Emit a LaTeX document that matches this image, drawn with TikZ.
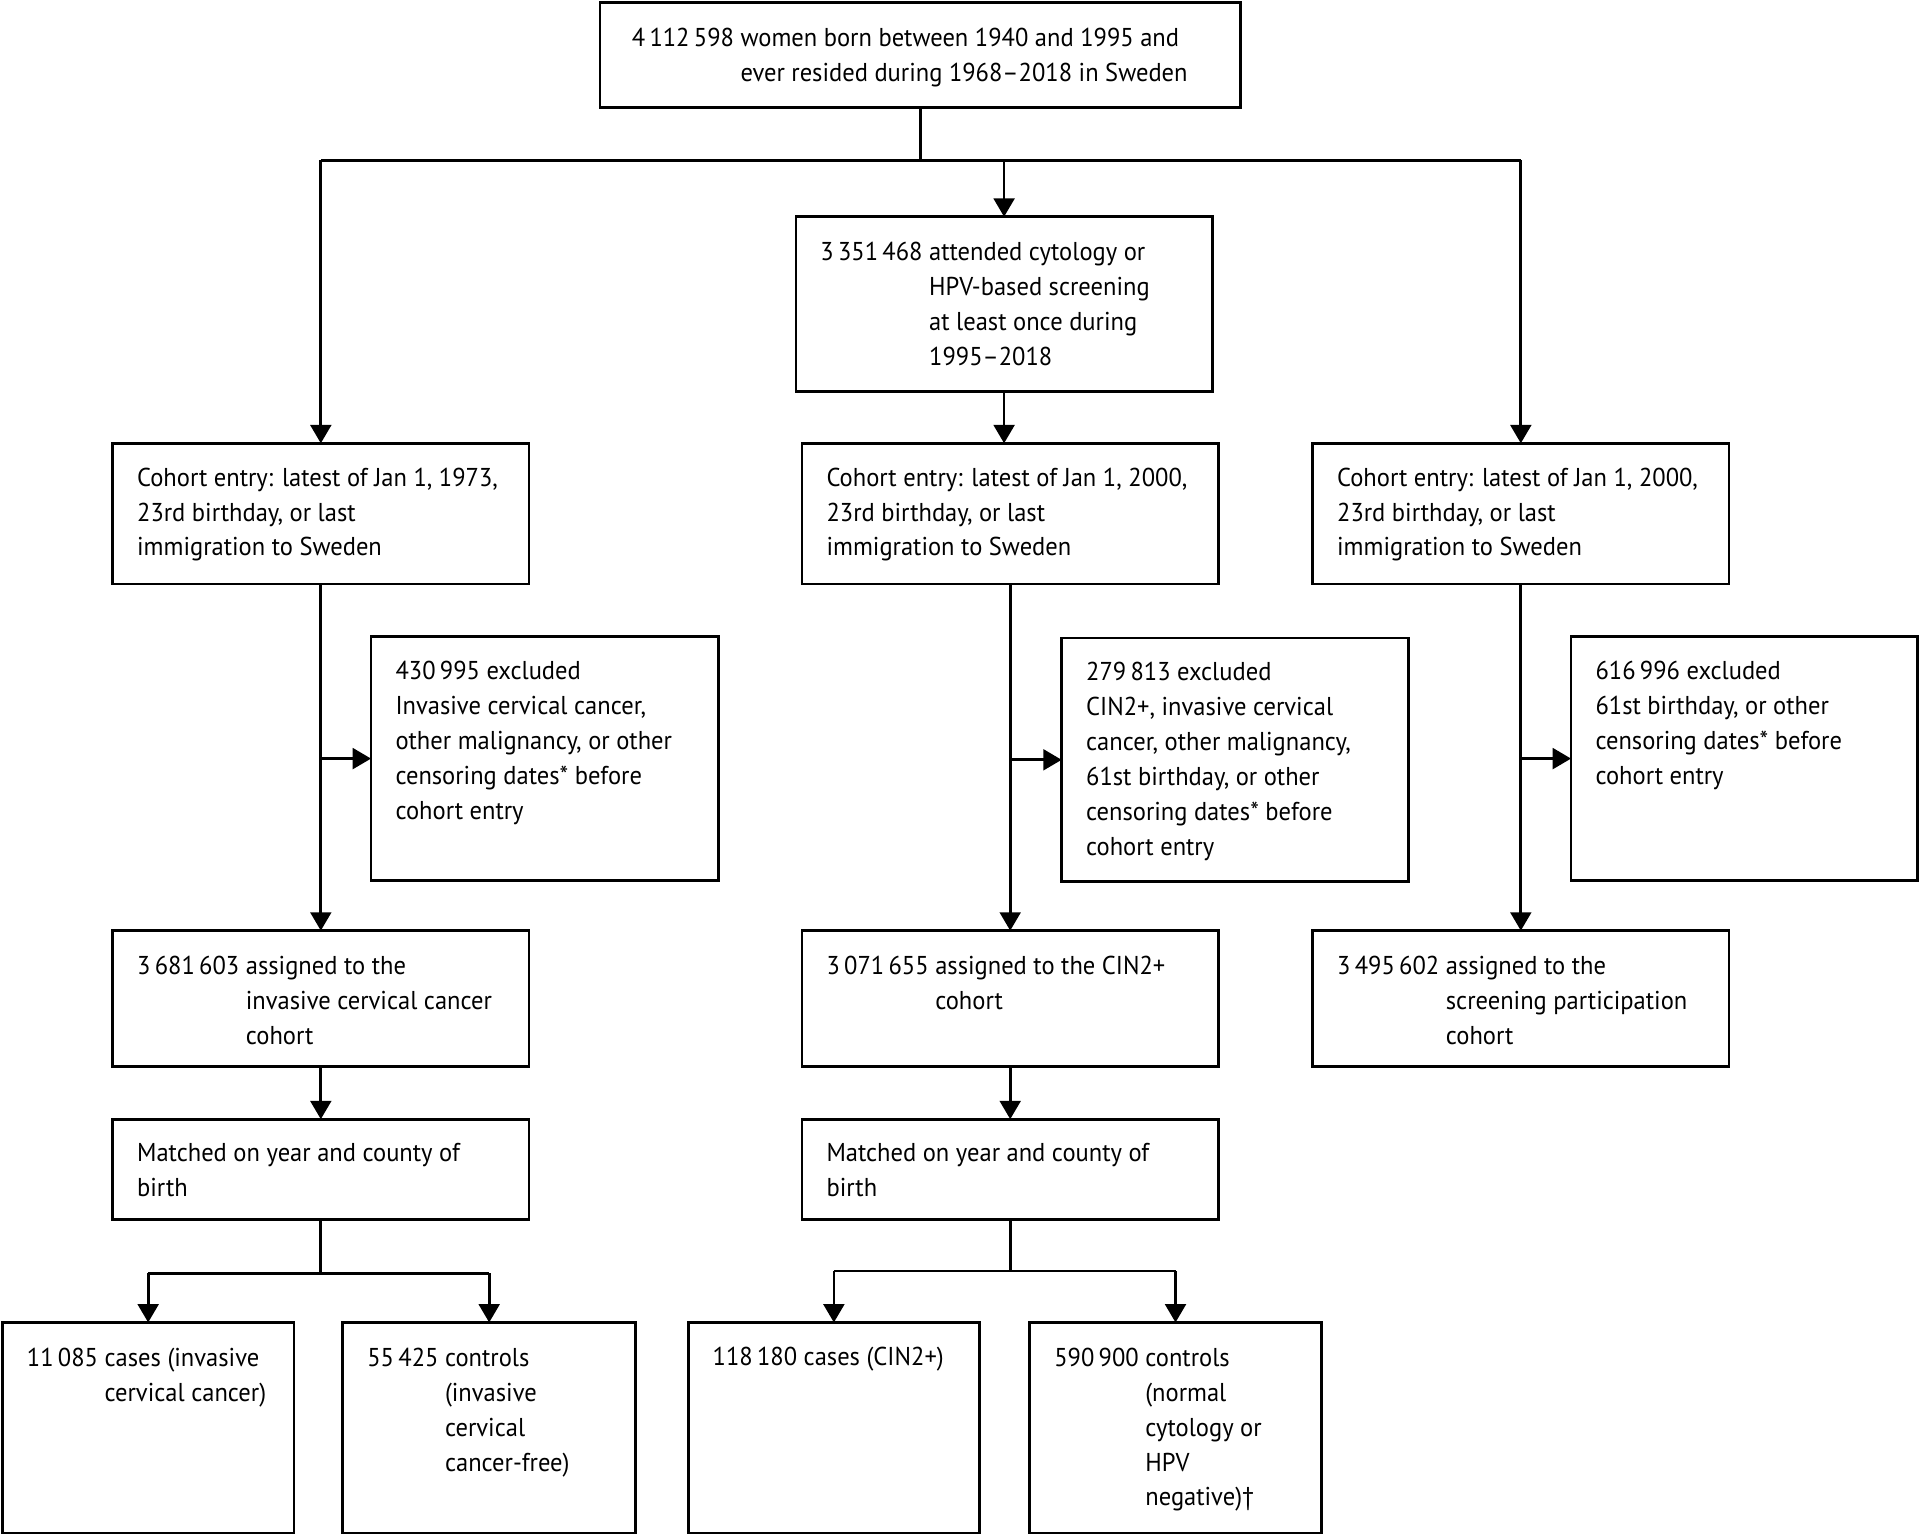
\documentclass[tikz,border=0pt]{standalone}
\usepackage{fontspec}
\setmainfont{PT Sans}[FakeStretch=0.95]
\usetikzlibrary{arrows.meta,calc}
\tikzset{
  box/.style={draw, line width=0.45mm, anchor=north west, inner xsep=4mm, inner ysep=4mm, outer sep=0pt},
  link/.style={line width=0.45mm},
  arr/.style={link, -{Triangle[length=3mm,width=3.4mm]}}
}
\newcommand{\boxtext}[3]{\begin{minipage}[t][#2][t]{#1}\raggedright #3\end{minipage}}
\newcommand{\numtext}[2]{\vspace*{-0.8mm}\begin{tabular}[t]{@{}l@{\ }l@{}}#1 & #2\end{tabular}}
\begin{document}
\begin{tikzpicture}[x=0.2mm, y=-0.2mm, font=\fontsize{12}{16.2}\selectfont]
\useasboundingbox (0,0) rectangle (1568,1254);
% first row
\node[box, inner xsep=5.2mm] (top) at (490,2) {\boxtext{94.2mm}{9.2mm}{\numtext{4\,112\,598}{women born between 1940 and 1995 and\\ & ever resided during 1968–2018 in Sweden}}};
\node[box] (att) at (650,177) {\boxtext{60mm}{20.6mm}{\numtext{3\,351\,468}{attended cytology or\\ & HPV-based screening\\ & at least once during\\ & 1995–2018}}};
% cohort entry
\node[box] (entL) at (92,362) {\boxtext{60mm}{15mm}{Cohort entry: latest of Jan 1, 1973,\\ 23rd birthday, or last\\ immigration to Sweden}};
\node[box] (entM) at (655,362) {\boxtext{60mm}{15mm}{Cohort entry: latest of Jan 1, 2000,\\ 23rd birthday, or last\\ immigration to Sweden}};
\node[box] (entR) at (1072,362) {\boxtext{60mm}{15mm}{Cohort entry: latest of Jan 1, 2000,\\ 23rd birthday, or last\\ immigration to Sweden}};
% exclusions
\node[box] (excL) at (303,520) {\boxtext{48.8mm}{31.8mm}{430\,995 excluded\\ Invasive cervical cancer,\\ other malignancy, or other\\ censoring dates* before\\ cohort entry}};
\node[box] (excM) at (867,521) {\boxtext{48.6mm}{31.8mm}{279\,813 excluded\\ CIN2+, invasive cervical\\ cancer, other malignancy,\\ 61st birthday, or other\\ censoring dates* before\\ cohort entry}};
\node[box] (excR) at (1283,520) {\boxtext{48.6mm}{31.8mm}{616\,996 excluded\\ 61st birthday, or other\\ censoring dates* before\\ cohort entry}};
% assigned cohorts
\node[box] (asgL) at (92,760) {\boxtext{60mm}{14.2mm}{\numtext{3\,681\,603}{assigned to the\\ & invasive cervical cancer\\ & cohort}}};
\node[box] (asgM) at (655,760) {\boxtext{60mm}{14.2mm}{\numtext{3\,071\,655}{assigned to the CIN2+\\ & cohort}}};
\node[box] (asgR) at (1072,760) {\boxtext{60mm}{14.2mm}{\numtext{3\,495\,602}{assigned to the\\ & screening participation\\ & cohort}}};
% matching
\node[box] (matL) at (92,914) {\boxtext{60mm}{8.4mm}{Matched on year and county of\\ birth}};
\node[box] (matM) at (655,914) {\boxtext{60mm}{8.4mm}{Matched on year and county of\\ birth}};
% cases and controls
\node[box] (casL) at (2,1080) {\boxtext{39.6mm}{26.4mm}{\numtext{11\,085}{cases (invasive\\ & cervical cancer)}}};
\node[box] (conL) at (280,1080) {\boxtext{39.8mm}{26.4mm}{\numtext{55\,425}{controls\\ & (invasive\\ & cervical\\ & cancer-free)}}};
\node[box] (casM) at (562,1080) {\boxtext{39.6mm}{26.4mm}{118\,180 cases (CIN2+)}};
\node[box] (conM) at (841,1080) {\boxtext{39.6mm}{26.4mm}{\numtext{590\,900}{controls\\ & (normal\\ & cytology or\\ & HPV\\ & negative)\textdagger}}};
% connectors
\coordinate (fork) at ($(top.south)+(0,43)$);
\draw[link] (top.south) -- (fork);
\draw[link] (fork -| entL.north) -- (fork -| entR.north);
\draw[arr] (fork -| entL.north) -- (entL.north);
\draw[arr] (fork -| att.north) -- (att.north);
\draw[arr] (fork -| entR.north) -- (entR.north);
\draw[arr] (att.south) -- (att.south |- entM.north);
\draw[arr] (entL.south) -- (asgL.north);
\draw[arr] (entM.south) -- (asgM.north);
\draw[arr] (entR.south) -- (asgR.north);
\draw[arr] (entL.south |- excL.west) -- (excL.west);
\draw[arr] (entM.south |- excM.west) -- (excM.west);
\draw[arr] (entR.south |- excR.west) -- (excR.west);
\draw[arr] (asgL.south) -- (matL.north);
\draw[arr] (asgM.south) -- (matM.north);
\coordinate (forkL) at ($(matL.south)+(0,44)$);
\coordinate (forkM) at ($(matM.south)+(0,42)$);
\draw[link] (matL.south) -- (forkL);
\draw[link] (matM.south) -- (forkM);
\draw[link] (forkL -| casL.north) -- (forkL -| conL.north);
\draw[link] (forkM -| casM.north) -- (forkM -| conM.north);
\draw[arr] (forkL -| casL.north) -- (casL.north);
\draw[arr] (forkL -| conL.north) -- (conL.north);
\draw[arr] (forkM -| casM.north) -- (casM.north);
\draw[arr] (forkM -| conM.north) -- (conM.north);
\end{tikzpicture}
\end{document}
